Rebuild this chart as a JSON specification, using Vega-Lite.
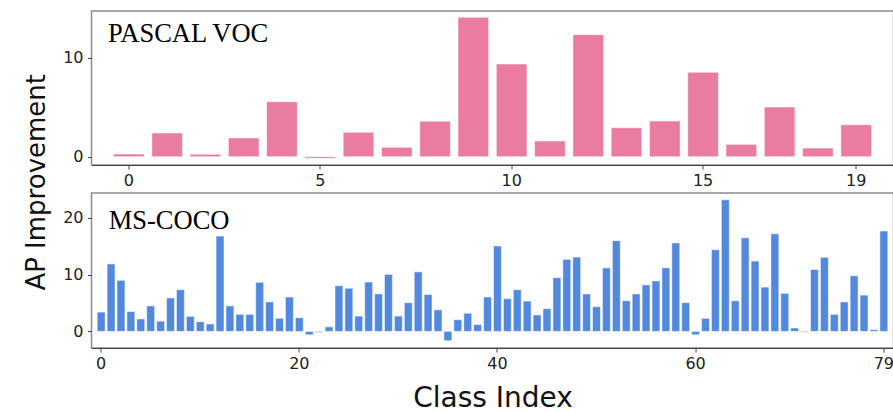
{
  "$schema": "https://vega.github.io/schema/vega-lite/v6.json",
  "padding": {"left": 22.5, "top": 10, "right": 0, "bottom": 0},
  "bounds": "flush",
  "spacing": 28,
  "background": "white",
  "config": {
    "view": {"stroke": "#8c8c8c", "strokeWidth": 1.5},
    "axis": {
      "grid": false,
      "labelFont": "DejaVu Sans",
      "labelFontSize": 16,
      "labelColor": "#222222",
      "tickColor": "#444444",
      "tickSize": 4,
      "tickWidth": 1,
      "titleFont": "DejaVu Sans",
      "titleFontWeight": "normal",
      "titleColor": "#111111"
    },
    "axisX": {"domainColor": "#444444", "domainWidth": 1.2, "labelAngle": 0, "labelPadding": 3},
    "axisY": {"domain": false, "labelPadding": 4.5},
    "title": {"font": "Liberation Serif", "fontSize": 26.5, "fontWeight": "normal", "color": "#000000"}
  },
  "datasets": {
    "voc": [
      {"cls": 0, "ap": 0.27}, {"cls": 1, "ap": 2.4}, {"cls": 2, "ap": 0.24}, {"cls": 3, "ap": 1.9},
      {"cls": 4, "ap": 5.57}, {"cls": 5, "ap": -0.16}, {"cls": 6, "ap": 2.47}, {"cls": 7, "ap": 0.95},
      {"cls": 8, "ap": 3.59}, {"cls": 9, "ap": 14.12}, {"cls": 10, "ap": 9.39}, {"cls": 11, "ap": 1.59},
      {"cls": 12, "ap": 12.36}, {"cls": 13, "ap": 2.94}, {"cls": 14, "ap": 3.62}, {"cls": 15, "ap": 8.55},
      {"cls": 16, "ap": 1.25}, {"cls": 17, "ap": 5.03}, {"cls": 18, "ap": 0.88}, {"cls": 19, "ap": 3.24}
    ],
    "coco": [
      {"cls": 0, "ap": 3.4}, {"cls": 1, "ap": 11.9}, {"cls": 2, "ap": 9.0}, {"cls": 3, "ap": 3.5},
      {"cls": 4, "ap": 2.2}, {"cls": 5, "ap": 4.5}, {"cls": 6, "ap": 1.8}, {"cls": 7, "ap": 5.9},
      {"cls": 8, "ap": 7.35}, {"cls": 9, "ap": 2.65}, {"cls": 10, "ap": 1.7}, {"cls": 11, "ap": 1.3},
      {"cls": 12, "ap": 16.8}, {"cls": 13, "ap": 4.5}, {"cls": 14, "ap": 3.0}, {"cls": 15, "ap": 3.0},
      {"cls": 16, "ap": 8.65}, {"cls": 17, "ap": 5.2}, {"cls": 18, "ap": 2.3}, {"cls": 19, "ap": 6.05},
      {"cls": 20, "ap": 2.4}, {"cls": 21, "ap": -0.6}, {"cls": 22, "ap": -0.2}, {"cls": 23, "ap": 0.8},
      {"cls": 24, "ap": 8.05}, {"cls": 25, "ap": 7.6}, {"cls": 26, "ap": 2.7}, {"cls": 27, "ap": 8.7},
      {"cls": 28, "ap": 6.6}, {"cls": 29, "ap": 10.05}, {"cls": 30, "ap": 2.7}, {"cls": 31, "ap": 5.06},
      {"cls": 32, "ap": 10.5}, {"cls": 33, "ap": 6.5}, {"cls": 34, "ap": 3.8}, {"cls": 35, "ap": -1.65},
      {"cls": 36, "ap": 2.06}, {"cls": 37, "ap": 3.2}, {"cls": 38, "ap": 1.2}, {"cls": 39, "ap": 6.06},
      {"cls": 40, "ap": 15.06}, {"cls": 41, "ap": 5.76}, {"cls": 42, "ap": 7.35}, {"cls": 43, "ap": 5.35},
      {"cls": 44, "ap": 2.9}, {"cls": 45, "ap": 4.0}, {"cls": 46, "ap": 9.47}, {"cls": 47, "ap": 12.7},
      {"cls": 48, "ap": 13.1}, {"cls": 49, "ap": 6.6}, {"cls": 50, "ap": 4.35}, {"cls": 51, "ap": 11.2},
      {"cls": 52, "ap": 16.0}, {"cls": 53, "ap": 5.4}, {"cls": 54, "ap": 6.6}, {"cls": 55, "ap": 8.2},
      {"cls": 56, "ap": 8.9}, {"cls": 57, "ap": 11.2}, {"cls": 58, "ap": 15.6}, {"cls": 59, "ap": 5.06},
      {"cls": 60, "ap": -0.6}, {"cls": 61, "ap": 2.3}, {"cls": 62, "ap": 14.4}, {"cls": 63, "ap": 23.2},
      {"cls": 64, "ap": 5.4}, {"cls": 65, "ap": 16.5}, {"cls": 66, "ap": 12.4}, {"cls": 67, "ap": 7.8},
      {"cls": 68, "ap": 17.2}, {"cls": 69, "ap": 6.7}, {"cls": 70, "ap": 0.6}, {"cls": 71, "ap": -0.15},
      {"cls": 72, "ap": 10.9}, {"cls": 73, "ap": 13.06}, {"cls": 74, "ap": 3.0}, {"cls": 75, "ap": 5.2},
      {"cls": 76, "ap": 9.8}, {"cls": 77, "ap": 6.4}, {"cls": 78, "ap": 0.3}, {"cls": 79, "ap": 17.7}
    ]
  },
  "vconcat": [
    {
      "width": 802,
      "height": 154,
      "data": {"name": "voc"},
      "title": {"text": "PASCAL VOC", "anchor": "start", "frame": "group", "orient": "top", "offset": -57.7, "baseline": "alphabetic", "dx": 16.5},
      "mark": {"type": "bar", "color": "#e97ca0", "stroke": "#ffffff", "strokeWidth": 1, "strokeOpacity": 0.5},
      "encoding": {
        "x": {
          "field": "cls", "type": "ordinal", "sort": null,
          "scale": {"paddingInner": 0.2, "paddingOuter": 0.575},
          "axis": {"values": [0, 5, 10, 15, 19], "title": null}
        },
        "y": {
          "field": "ap", "type": "quantitative",
          "scale": {"domain": [-0.84, 14.76], "nice": false, "zero": false},
          "axis": {
            "values": [0, 10], "title": "AP Improvement",
            "titleFontSize": 26, "titleX": -47.2, "titleY": 170.8,
            "titleAngle": 270, "titleBaseline": "alphabetic", "titleAlign": "center"
          }
        }
      }
    },
    {
      "width": 802,
      "height": 155,
      "data": {"name": "coco"},
      "title": {"text": "MS-COCO", "anchor": "start", "frame": "group", "orient": "top", "offset": -62, "baseline": "alphabetic", "dx": 17.2},
      "mark": {"type": "bar", "color": "#5389dd", "stroke": "#ffffff", "strokeWidth": 1, "strokeOpacity": 0.5},
      "encoding": {
        "x": {
          "field": "cls", "type": "ordinal", "sort": null,
          "scale": {"paddingInner": 0.2, "paddingOuter": 0.575},
          "axis": {"values": [0, 20, 40, 60, 79], "title": "Class Index", "titleFontSize": 28, "titlePadding": 13}
        },
        "y": {
          "field": "ap", "type": "quantitative",
          "scale": {"domain": [-2.93, 24.4], "nice": false, "zero": false},
          "axis": {"values": [0, 10, 20], "title": null}
        }
      }
    }
  ]
}
